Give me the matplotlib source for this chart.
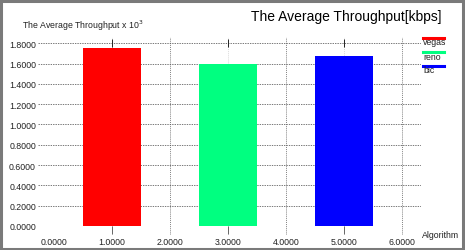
import matplotlib
matplotlib.use('Agg')
import matplotlib.pyplot as plt
from matplotlib.lines import Line2D
from matplotlib.patches import Rectangle

# datos
algoritmos = ['vegas', 'reno', 'bic']
posiciones = [1, 3, 5]
throughput = [1.75, 1.60, 1.67]   # x 10^3 kbps
colores = ['#ff0000', '#00ff80', '#0000ff']
xticks = [0, 1, 2, 3, 4, 5, 6]
yticks = [0.0, 0.2, 0.4, 0.6, 0.8, 1.0, 1.2, 1.4, 1.6, 1.8]

plt.rcParams['font.family'] = ['Liberation Sans', 'DejaVu Sans']

W, H = 465, 251
fig = plt.figure(figsize=(W / 100, H / 100), dpi=100)
fig.patch.set_facecolor('white')

# marco gris de la ventana
fig.add_artist(Rectangle((0.002, 0.004), 0.993, 0.99, transform=fig.transFigure,
                         fill=False, edgecolor='#7a7a7a', linewidth=2.2))

ax = fig.add_axes([38 / W, (H - 236) / H, (421 - 38) / W, (236 - 38) / H])
ax.set_xlim(-0.276, 6.33)
ax.set_ylim(-0.089, 1.862)
for s in ax.spines.values():
    s.set_visible(False)

# rejilla
for y in yticks[1:]:
    ax.axhline(y, color='#444444', linewidth=0.5, linestyle=(0, (2, 1.5)), zorder=1)
for x in xticks:
    if x == 0:
        continue
    if x % 2 == 0:
        ax.axvline(x, color='#555555', linewidth=0.5, linestyle=(0, (1.5, 1.5)), zorder=1)
    else:
        ax.axvline(x, color='#cccccc', linewidth=0.5, linestyle=(0, (1.5, 1.5)), zorder=1)
        ax.vlines(x, 1.76, 1.84, color='#222222', linewidth=0.7, zorder=3)
        ax.vlines(x, -0.08, -0.005, color='#666666', linewidth=0.7, zorder=3)

ax.bar(posiciones, throughput, width=1.0, color=colores, zorder=2)

ax.set_xticks(xticks)
ax.set_xticklabels(['%.4f' % v for v in xticks])
ax.set_yticks(yticks)
ax.set_yticklabels(['%.4f' % v for v in yticks])
ax.tick_params(length=0, labelsize=6.3, labelcolor='#222222')
ax.tick_params(axis='y', pad=1.5)
ax.tick_params(axis='x', pad=1.5)

# textos
fig.text(441 / W, 1 - 17 / H, 'The Average Throughput[kbps]', ha='right', va='center',
         fontsize=10, color='black')
fig.text(22 / W, 1 - 26 / H, r'The Average Throughput x 10$^3$', ha='left', va='center',
         fontsize=6.3, color='#222222')
fig.text(459 / W, 1 - 236 / H, 'Algorithm', ha='right', va='center', fontsize=6.3,
         color='#222222')

# leyenda
ys = [39, 53, 67]
for nombre, c, y in zip(algoritmos, colores, ys):
    fig.add_artist(Line2D([423 / W, 444 / W], [1 - y / H, 1 - y / H],
                          transform=fig.transFigure, color=c, linewidth=2.2))
    fig.text(423 / W, 1 - (y + 4) / H, nombre, ha='left', va='center', fontsize=6.3,
             color='#222222')

fig.savefig('out.png', dpi=100)
